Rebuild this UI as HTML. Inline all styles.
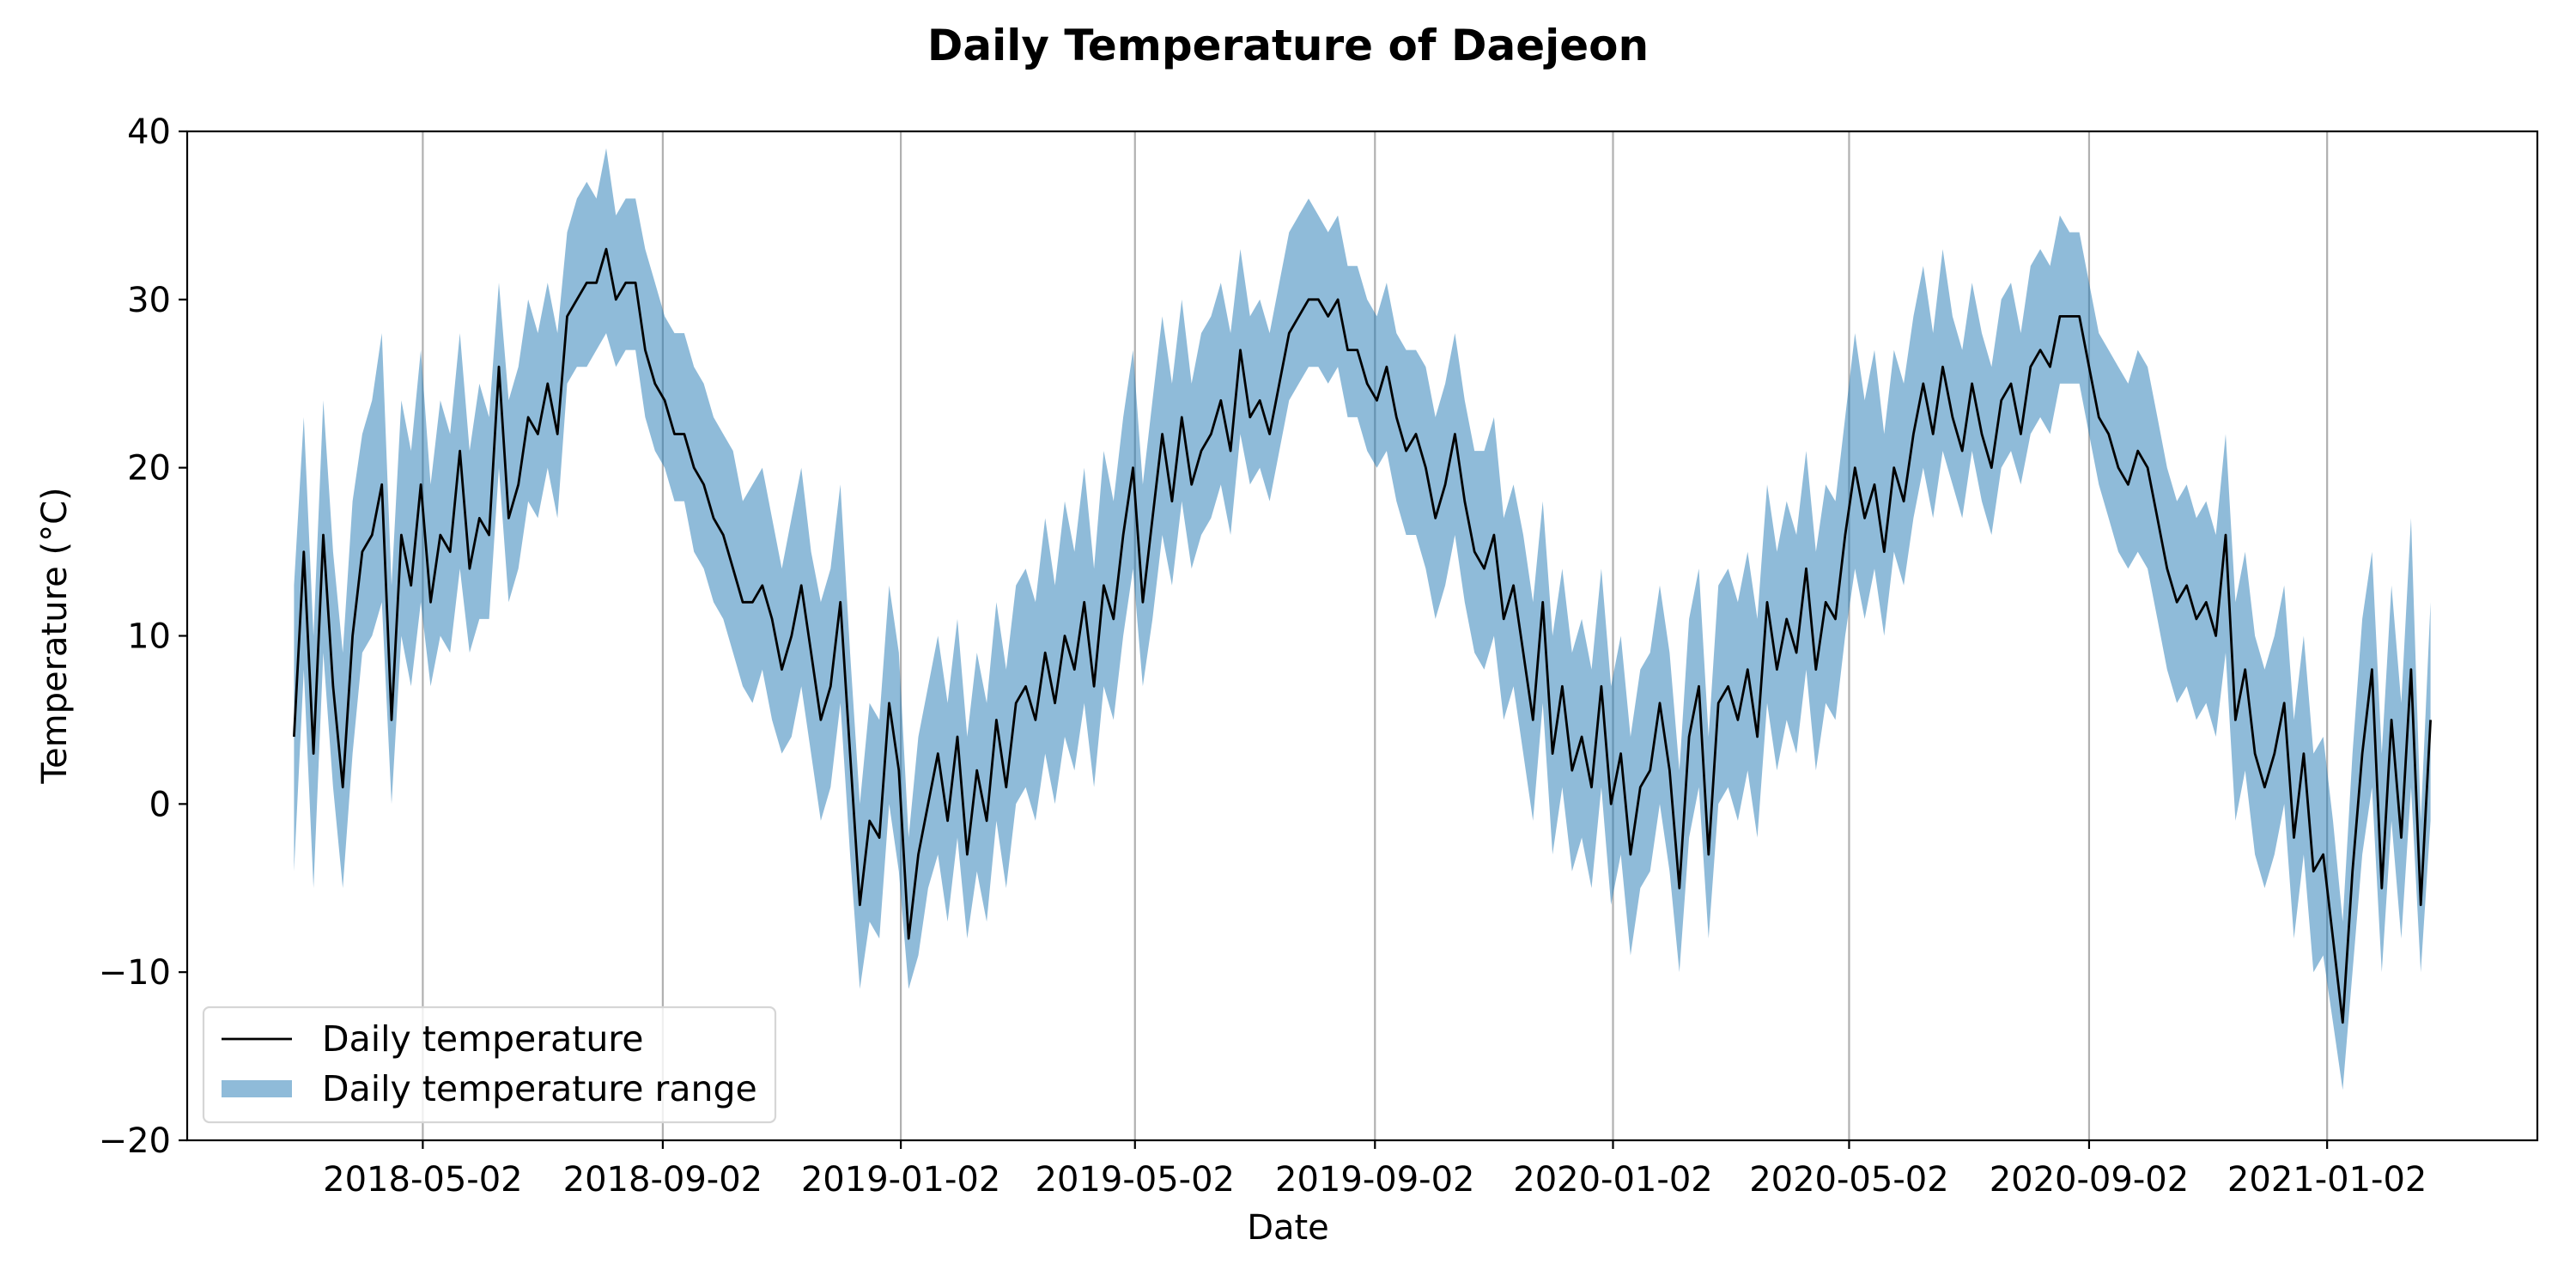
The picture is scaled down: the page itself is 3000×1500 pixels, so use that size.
<!DOCTYPE html>
<html><head><meta charset="utf-8">
<style>
html,body{margin:0;padding:0;background:#fff;}
svg{display:block;font-family:"DejaVu Sans","Liberation Sans",sans-serif;}
</style></head>
<body>
<svg id="chart" width="3000" height="1500" viewBox="0 0 3000 1500" xmlns="http://www.w3.org/2000/svg">
<rect width="3000" height="1500" fill="#fff"/>
<text x="1500" y="70" text-anchor="middle" font-size="50" font-weight="bold">Daily Temperature of Daejeon</text>
<g id="grid"></g>
<g id="band"></g>
<g id="line"></g>
<g id="axes"></g>
<text x="1500" y="1443" text-anchor="middle" font-size="40">Date</text>
<text transform="translate(77,740) rotate(-90)" text-anchor="middle" font-size="40">Temperature (°C)</text>
<g>
<rect x="237" y="1173" width="666" height="134" rx="7" fill="#fff" fill-opacity="0.8" stroke="#d6d6d6" stroke-width="2.2"/>
<line x1="258" y1="1210" x2="340" y2="1210" stroke="#000" stroke-width="2.8"/>
<text x="375" y="1224" font-size="41">Daily temperature</text>
<rect x="258" y="1258" width="82" height="20" fill="#8fbbd9"/>
<text x="375" y="1282" font-size="41">Daily temperature range</text>
</g>
</svg>
<script>
const startDate = "2018-02-25";
const stepDays = 5;
const tmean = [4,15,3,16,7,1,10, 15,16,19,5,16,13,19, 12,16,15,21,14,17, 16,26,17,19,23,22, 25,22,29,30,31,31,33,30,31,31,27,25, 24,22,22,20,19,17, 16,14,12,12,13,11, 8,10,13,9,5,7, 12,3,-6,-1,-2,6,
2,-8,-3,0,3,-1, 4,-3,2,-1,5,1, 6,7,5,9,6,10, 8,12,7,13,11,16, 20,12,17,22,18,23, 19,21,22,24,21,27, 23,24,22,25,28,29, 30,30,29,30,27,27, 25,24,26,23,21,22, 20,17,19,22,18,15, 14,16,11,13,9,5, 12,3,7,2,4,1,
7,0,3,-3,1,2, 6,2,-5,4,7,-3, 6,7,5,8,4,12, 8,11,9,14,8,12, 11,16,20,17,19,15, 20,18,22,25,22,26, 23,21,25,22,20,24, 25,22,26,27,26,29, 29,29,26,23,22,20, 19,21,20,17,14,12, 13,11,12,10,16,5, 8,3,1,3,6,-2, 3,-4,-3,-8,-13,-4, 3,8,-5,5,-2,8, -6,5];
const tmin = [-4,8,-5,9,1,-5,3, 9,10,12,0,10,7,12, 7,10,9,14,9,11, 11,20,12,14,18,17, 20,17,25,26,26,27,28,26,27,27,23,21, 20,18,18,15,14,12, 11,9,7,6,8,5, 3,4,7,3,-1,1, 6,-3,-11,-7,-8,0,
-4,-11,-9,-5,-3,-7, -2,-8,-4,-7,-1,-5, 0,1,-1,3,0,4, 2,6,1,7,5,10, 14,7,11,16,13,18, 14,16,17,19,16,22, 19,20,18,21,24,25, 26,26,25,26,23,23, 21,20,21,18,16,16, 14,11,13,16,12,9, 8,10,5,7,3,-1, 6,-3,1,-4,-2,-5,
1,-6,-3,-9,-5,-4, 0,-4,-10,-2,1,-8, 0,1,-1,2,-2,6, 2,5,3,8,2,6, 5,10,14,11,14,10, 15,13,17,20,17,21, 19,17,21,18,16,20, 21,19,22,23,22,25, 25,25,22,19,17,15, 14,15,14,11,8,6, 7,5,6,4,9,-1, 2,-3,-5,-3,0,-8, -3,-10,-9,-13,-17,-10, -3,1,-10,-1,-8,1, -10,-1];
const tmax = [13,23,10,24,15,9,18, 22,24,28,13,24,21,27, 19,24,22,28,21,25, 23,31,24,26,30,28, 31,28,34,36,37,36,39,35,36,36,33,31, 29,28,28,26,25,23, 22,21,18,19,20,17, 14,17,20,15,12,14, 19,9,0,6,5,13,
9,-2,4,7,10,6, 11,4,9,6,12,8, 13,14,12,17,13,18, 15,20,14,21,18,23, 27,19,24,29,25,30, 25,28,29,31,28,33, 29,30,28,31,34,35, 36,35,34,35,32,32, 30,29,31,28,27,27, 26,23,25,28,24,21, 21,23,17,19,16,12, 18,10,14,9,11,8,
14,7,10,4,8,9, 13,9,2,11,14,4, 13,14,12,15,11,19, 15,18,16,21,15,19, 18,23,28,24,27,22, 27,25,29,32,28,33, 29,27,31,28,26,30, 31,28,32,33,32,35, 34,34,31,28,27,26, 25,27,26,23,20,18, 19,17,18,16,22,12, 15,10,8,10,13,5, 10,3,4,-1,-7,3, 11,15,3,13,6,17, -1,12];
const xTickLabels = ["2018-05-02","2018-09-02","2019-01-02","2019-05-02","2019-09-02","2020-01-02","2020-05-02","2020-09-02","2021-01-02"];
const yTicks = [-20,-10,0,10,20,30,40];

function drawChart(){
  const NS="http://www.w3.org/2000/svg";
  const L=218,R=2955,T=153,B=1328;
  const DAY=86400000;
  const t0=Date.parse(startDate+"T00:00:00Z");
  const n=tmean.length;
  const span=(n-1)*stepDays;
  const xmin=-0.05*span, xmax=span*1.05;
  function xs(d){return L+(d-xmin)/(xmax-xmin)*(R-L);}
  function ys(v){return B-(v-(-20))/60*(B-T);}
  function dayOf(s){return (Date.parse(s+"T00:00:00Z")-t0)/DAY;}
  function mk(tag,attrs,parent){const e=document.createElementNS(NS,tag);for(const k in attrs)e.setAttribute(k,attrs[k]);parent.appendChild(e);return e;}
  const gridG=document.getElementById('grid'),bandG=document.getElementById('band'),lineG=document.getElementById('line'),axesG=document.getElementById('axes');

  const upper=[],lower=[];
  for(let i=0;i<n;i++){const x=xs(i*stepDays);upper.push(x.toFixed(1)+","+ys(tmax[i]).toFixed(1));lower.push(x.toFixed(1)+","+ys(tmin[i]).toFixed(1));}
  const bp=mk('polygon',{points:upper.concat(lower.reverse()).join(" "),fill:"#1f77b4","fill-opacity":"0.5"},bandG);
  
  

  const pts=[];
  for(let i=0;i<n;i++)pts.push(xs(i*stepDays).toFixed(1)+","+ys(tmean[i]).toFixed(1));
  const lp=mk('polyline',{points:pts.join(" "),fill:"none",stroke:"#000","stroke-width":"2.8","stroke-linejoin":"round"},lineG);
  
  

  xTickLabels.forEach(lab=>{
    const x=xs(dayOf(lab));
    const g=mk('line',{x1:x,x2:x,y1:T,y2:B,stroke:"#b0b0b0","stroke-width":"2.2"},gridG);
    
    
    const tk=mk('line',{x1:x,x2:x,y1:B,y2:B+10,stroke:"#000","stroke-width":"2.2"},axesG);
    
    
    const tx=mk('text',{x:x,y:1387,"text-anchor":"middle","font-size":"40"},axesG);
    tx.textContent=lab;
    
    
  });
  yTicks.forEach(v=>{
    const y=ys(v);
    const tk=mk('line',{x1:L-10,x2:L,y1:y,y2:y,stroke:"#000","stroke-width":"2.2"},axesG);
    
    
    const tx=mk('text',{x:L-19,y:y+14,"text-anchor":"end","font-size":"40"},axesG);
    tx.textContent=(v<0?"\u2212"+Math.abs(v):String(v));
    
    
  });
  const fr=mk('rect',{x:L,y:T,width:R-L,height:B-T,fill:"none",stroke:"#000","stroke-width":"2.2"},axesG);
  
  
}
drawChart();
</script>
</body></html>
